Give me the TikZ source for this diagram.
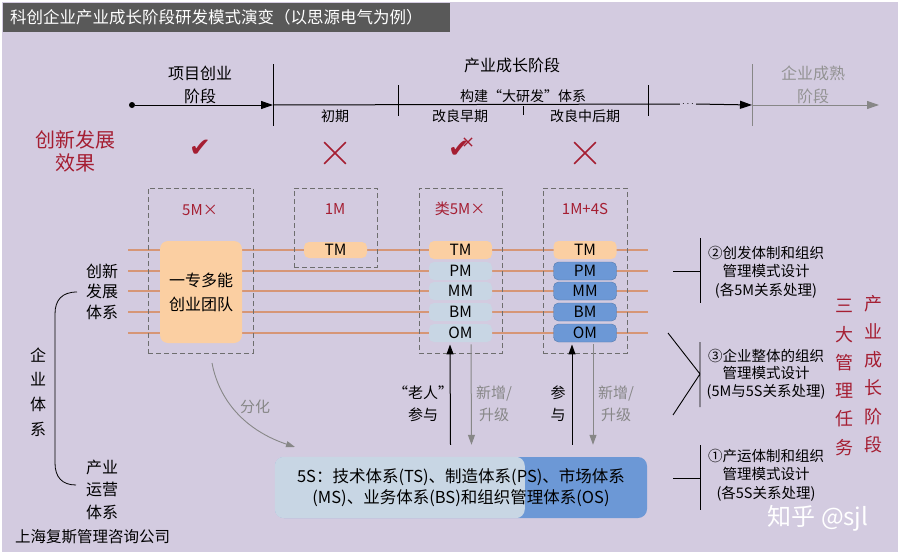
\documentclass[tikz,border=0pt]{standalone}
\usepackage{fontspec}
\setmainfont{Noto Sans CJK SC}
\newfontfamily\symfont{DejaVu Sans}
\usetikzlibrary{arrows.meta, positioning, shapes.misc}

\definecolor{bglav}{RGB}{211,203,224}
\definecolor{barg}{RGB}{89,89,89}
\definecolor{darkred}{RGB}{165,30,50}
\definecolor{linetan}{RGB}{214,150,118}
\definecolor{peach}{RGB}{251,207,162}
\definecolor{lightblue}{RGB}{200,214,228}
\definecolor{midblue}{RGB}{108,152,214}
\definecolor{softgray}{RGB}{135,135,135}
\definecolor{dashgray}{RGB}{110,110,110}

\newcommand{\fsz}[2]{\fontsize{#1}{#2}\selectfont}

\begin{document}
\begin{tikzpicture}[x=1pt, y=-1pt, every node/.style={inner sep=0pt},
	stagetxt/.style={align=center, font=\fsz{16}{23}},
	phasetxt/.style={font=\fsz{14}{16}},
	mbox/.style={draw=dashgray, dash pattern=on 5pt off 3pt, line width=.9pt},
	mlabel/.style={text=darkred, font=\fsz{15}{17}},
	pill/.style={rounded corners=5pt, minimum width=63pt, minimum height=18pt, font=\fsz{15.5}{17}},
	rline/.style={draw=linetan, line width=1.4pt},
	cross/.style={cross out, draw=darkred, line width=1.6pt, minimum size=20pt},
	tick/.style={font=\symfont\fsz{26}{26}, text=darkred},
	sidetxt/.style={align=center, font=\fsz{14.5}{18.5}},
	redcol/.style={align=center, text=darkred, font=\fsz{18}{28.3}}]
	\useasboundingbox (0,0) rectangle (900,554);
	\fill[white] (0,0) rectangle (900,554);
	\fill[bglav] (2,2) rectangle (898,552);
	% title
	\fill[barg] (3,3) rectangle (450,32);
	\node[anchor=west, text=white, font=\fsz{16.5}{18}] (title) at (10,17.5) {科创企业产业成长阶段研发模式演变（以思源电气为例）};

	% timeline
	\node[circle, fill=black, minimum size=6pt] (t0) at (132,105) {};
	\coordinate (t1) at (273,105);
	\node (dots) at (688,104) {$\cdots$};
	\coordinate (t2) at (752,105);
	\coordinate (t3) at (879,105);
	\draw[line width=1pt, -{Triangle[length=12pt, width=8pt]}] (t0) -- (t1);
	\draw[line width=1pt] (t1) -- ([xshift=-2pt]dots.west);
	\draw[line width=1pt, -{Triangle[length=12pt, width=8pt]}] ([xshift=2pt]dots.east) -- (t2);
	\draw[softgray, line width=1pt, -{Triangle[length=12pt, width=8pt]}] (t2) -- (t3);
	\draw[line width=.9pt] (273,64) -- (273,126) (398,85) -- (398,116) (523,106) -- (523,115) (648,85) -- (648,116);
	\draw[softgray, line width=.9pt] (752,64) -- (752,126);

	\node[stagetxt] (s0) at (200,84.5) {项目创业\\阶段};
	\node[stagetxt] (s1) at (512,65) {产业成长阶段};
	\node[stagetxt, text=softgray!90] (s2) at (813,84.5) {企业成熟\\阶段};
	\node[phasetxt] (p1) at (335,116) {初期};
	\node[phasetxt] (p2) at (460,116) {改良早期};
	\node[phasetxt] (p3) at (585,116) {改良中后期};
	\node[phasetxt] (p4) at (523,96) {构建“大研发”体系};

	% effects
	\node[align=center, text=darkred, font=\fsz{20}{23}] (eff) at (75,151.5) {创新发展\\效果};
	\node[tick] (c1) at (200,148) {✔};
	\node[cross] (c2) at (335,153) {};
	\node[tick] (c3) at (459,149) {✔};
	\node[cross, line width=1.2pt, minimum size=7pt] (c3x) at (468,142) {};
	\node[cross] (c4) at (585,153) {};

	% system lines
	\foreach \y in {250,271,291,312,333}
		\draw[rline] (128,\y) -- (648,\y);

	% mode boxes
	\node[mbox, minimum width=105pt, minimum height=165pt] (box1) at (200.5,270.5) {};
	\node[mbox, minimum width=83pt, minimum height=79pt] (box2) at (335.5,227.5) {};
	\node[mbox, minimum width=83pt, minimum height=165pt] (box3) at (460.5,270.5) {};
	\node[mbox, minimum width=84pt, minimum height=165pt] (box4) at (585,270.5) {};
	\node[mlabel] at (200,210) {5M×};
	\node[mlabel] at (335,209) {1M};
	\node[mlabel] at (460,209) {类5M×};
	\node[mlabel] at (585,209) {1M+4S};

	\node[fill=peach, rounded corners=8pt, minimum width=82pt, minimum height=102pt, align=center, font=\fsz{16}{24}] (team) at (201,292) {一专多能\\创业团队};

	\node[pill, fill=peach, minimum height=16pt] (tm2) at (335.5,250) {TM};
	\node[pill, fill=peach] (tm3) at (460.5,250) {TM};
	\node[pill, fill=lightblue] (pm3) at (460.5,271) {PM};
	\node[pill, fill=lightblue] (mm3) at (460.5,291) {MM};
	\node[pill, fill=lightblue] (bm3) at (460.5,312) {BM};
	\node[pill, fill=lightblue] (om3) at (460.5,333) {OM};
	\node[pill, fill=peach] (tm4) at (585,250) {TM};
	\node[pill, fill=midblue, draw=midblue!80!black, line width=.4pt] (pm4) at (585,271) {PM};
	\node[pill, fill=midblue, draw=midblue!80!black, line width=.4pt] (mm4) at (585,291) {MM};
	\node[pill, fill=midblue, draw=midblue!80!black, line width=.4pt] (bm4) at (585,312) {BM};
	\node[pill, fill=midblue, draw=midblue!80!black, line width=.4pt] (om4) at (585,333) {OM};

	% left labels
	\node[align=center, font=\fsz{16}{20.5}] (inno) at (102,291.5) {创新\\发展\\体系};
	\node[align=center, font=\fsz{16}{22.5}] (oper) at (102,489.5) {产业\\运营\\体系};
	\node[align=center, font=\fsz{16}{24.7}] (ent) at (38,392) {企\\业\\体\\系};
	\draw[line width=.8pt] (77,292) .. controls (62,292) and (55,300) .. (55,314) -- (55,463) .. controls (55,477) and (62,485) .. (76,485);

	% 5S box
	\node[fill=midblue, rounded corners=9pt, minimum width=372pt, minimum height=61pt] (s5) at (461,487.5) {};
	\fill[lightblue, rounded corners=9pt] (s5.north west) rectangle ([xshift=250pt]s5.south west);
	\node[align=center, font=\fsz{16.5}{21}] (s5txt) at (s5) {5S：技术体系(TS)、制造体系(PS)、市场体系\\(MS)、业务体系(BS)和组织管理体系(OS)};

	% flows
	\draw[softgray, line width=.9pt, -{Triangle[length=9pt, width=6pt]}] (212,363) .. controls (220,405) and (250,432) .. (295,447);
	\node[text=softgray, font=\fsz{15}{17}] (split) at (255,407) {分化};
	\draw[line width=1pt, -{Triangle[length=10pt, width=7pt]}] ([xshift=-10.5pt,yshift=12pt]s5.north) -- ([xshift=-10.5pt,yshift=9pt]box3.south);
	\draw[softgray, line width=1pt, -{Triangle[length=10pt, width=7pt]}] ([xshift=10.5pt,yshift=9pt]box3.south) -- ([xshift=10.5pt,yshift=12pt]s5.north);
	\draw[line width=1pt, -{Triangle[length=10pt, width=7pt]}] ([xshift=-13pt,yshift=12pt]s5.north -| box4.south) -- ([xshift=-13pt,yshift=9pt]box4.south);
	\draw[softgray, line width=1pt, -{Triangle[length=10pt, width=7pt]}] ([xshift=8pt,yshift=9pt]box4.south) -- ([xshift=8pt,yshift=12pt]s5.north -| box4.south);
	\node[align=center, font=\fsz{15}{22}] (old) at (423,404) {“老人”\\参与};
	\node[align=center, text=softgray, font=\fsz{15}{22}] (up3) at (494,404) {新增/\\升级};
	\node[align=center, font=\fsz{15}{22}] (join) at (558,404) {参\\与};
	\node[align=center, text=softgray, font=\fsz{15}{22}] (up4) at (616,404) {新增/\\升级};

	% right side tasks
	\node[sidetxt] (task2) at (766,272) {②创发体制和组织\\管理模式设计\\(各5M关系处理)};
	\node[sidetxt, font=\fsz{14.5}{17.5}] (task3) at (766,374) {③企业整体的组织\\管理模式设计\\(5M与5S关系处理)};
	\node[sidetxt] (task1) at (766,475) {①产运体制和组织\\管理模式设计\\(各5S关系处理)};
	\draw[line width=.9pt] (700,238) -- (700,303) (673,271) -- (700,271);
	\draw[line width=.9pt] (700,342) -- (700,407) (668,333) -- (700,374) -- (673,415);
	\draw[line width=.9pt] (700,445) -- (700,510) (673,478) -- (700,478);
	\node[redcol] (tasks) at (844,377.5) {三\\大\\管\\理\\任\\务};
	\node[redcol] (phase) at (873,374) {产\\业\\成\\长\\阶\\段};

	% footer
	\node[anchor=west, font=\fsz{15.5}{17}] (firm) at (15,537) {上海复斯管理咨询公司};
	\node[text=white, font=\fsz{24}{26}] (wm) at (818,518) {知乎 @sjl};
\end{tikzpicture}
\end{document}
